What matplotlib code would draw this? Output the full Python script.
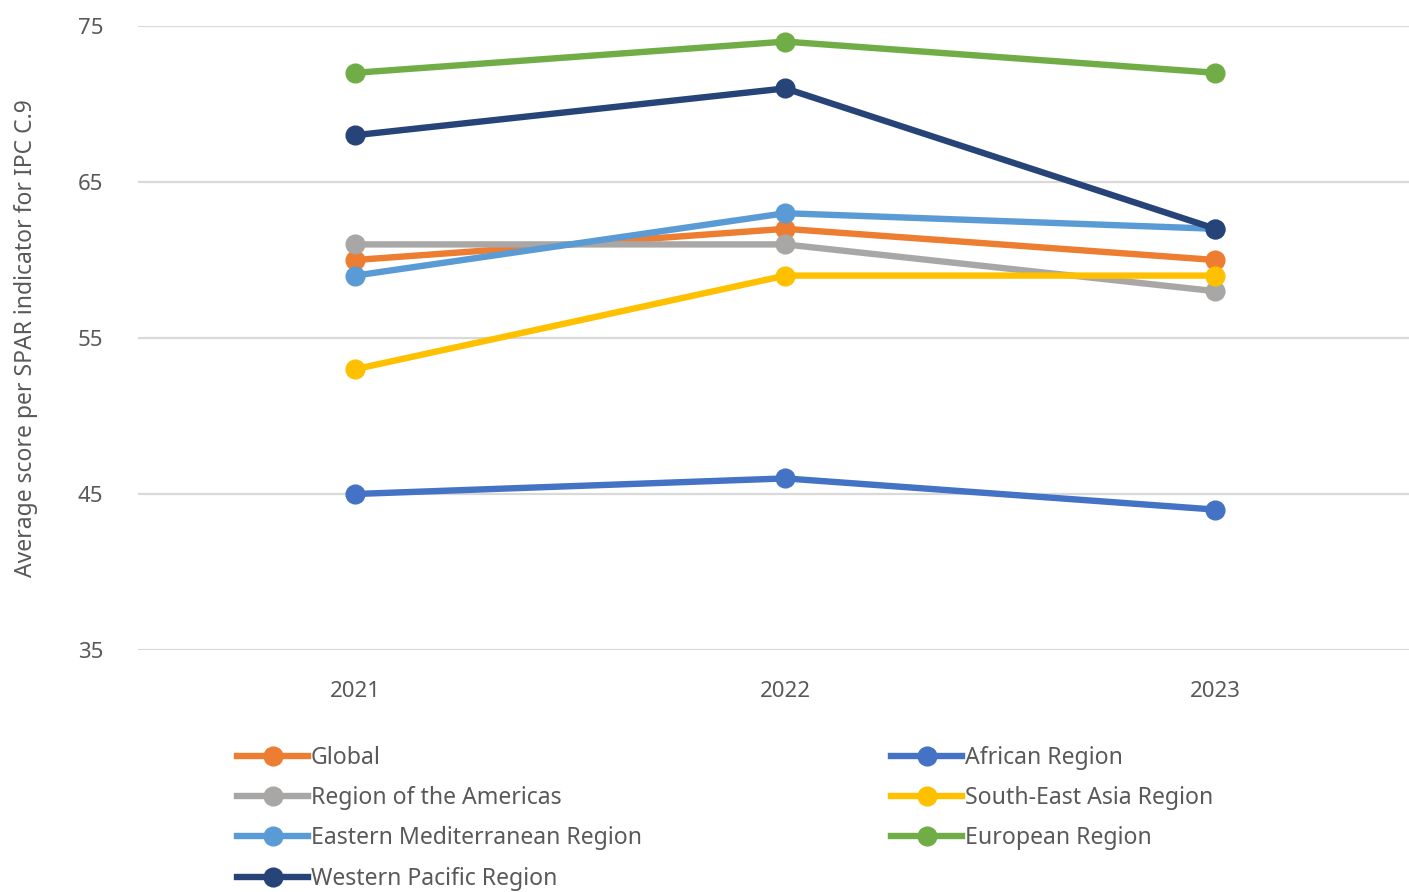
import numpy as np
import matplotlib.pyplot as plt
from matplotlib.lines import Line2D

years = ["2021", "2022", "2023"]

global_avg = [60, 62, 60]
african = [45, 46, 44]
americas = [61, 61, 58]
south_east_asia = [53, 59, 59]
east_med = [59, 63, 62]
european = [72, 74, 72]
western_pacific = [68, 71, 62]

series = [
    ("Global", global_avg, "#ED7D31"),
    ("African Region", african, "#4472C4"),
    ("Region of the Americas", americas, "#A9A6A6"),
    ("South-East Asia Region", south_east_asia, "#FFC000"),
    ("Eastern Mediterranean Region", east_med, "#5B9BD5"),
    ("European Region", european, "#70AD47"),
    ("Western Pacific Region", western_pacific, "#264478"),
]

plt.rcParams["font.family"] = ["Noto Sans", "DejaVu Sans"]
text_col = "#595959"

fig = plt.figure(figsize=(14.09, 8.92), dpi=100)
ax = fig.add_axes([138 / 1409, 1 - 650 / 892, 1 - 138 / 1409, (650 - 26) / 892])

x = np.arange(len(years))
for name, vals, col in series:
    ax.plot(x, vals, color=col, lw=4.6, marker="o", ms=13.5, label=name,
            solid_capstyle="round")

ax.set_ylim(35, 75)
ax.set_xlim(-0.505, 2.45)
ax.set_yticks([35, 45, 55, 65, 75])
ax.set_xticks(x)
ax.set_xticklabels(years)
ax.yaxis.grid(True, color="#D9D9D9", lw=1.6)
ax.set_axisbelow(True)
for s in ax.spines.values():
    s.set_visible(False)
ax.tick_params(length=0, labelsize=16, labelcolor=text_col)
ax.tick_params(axis="y", pad=25)
ax.tick_params(axis="x", pad=22)
ax.set_ylabel("Average score per SPAR indicator for IPC C.9", fontsize=16.5,
              color=text_col)
ax.yaxis.set_label_coords(-(138 - 38) / 1271, 0.5)

# legend, two columns filled row by row
left_col = [s for i, s in enumerate(series) if i % 2 == 0]
right_col = [s for i, s in enumerate(series) if i % 2 == 1]
for col_items, x0 in ((left_col, 236), (right_col, 890)):
    handles = [Line2D([], [], color=c, lw=4.6, marker="o", ms=13.5) for _, _, c in col_items]
    labels = [n for n, _, _ in col_items]
    fig.legend(handles, labels, loc="upper left",
               bbox_to_anchor=(x0 / 1409 - 0.006, 1 - 737 / 892),
               frameon=False, fontsize=16.6, labelcolor=text_col,
               handlelength=3.1, handletextpad=0.1, labelspacing=0.7,
               borderaxespad=0)

fig.savefig("out.png", dpi=100)
